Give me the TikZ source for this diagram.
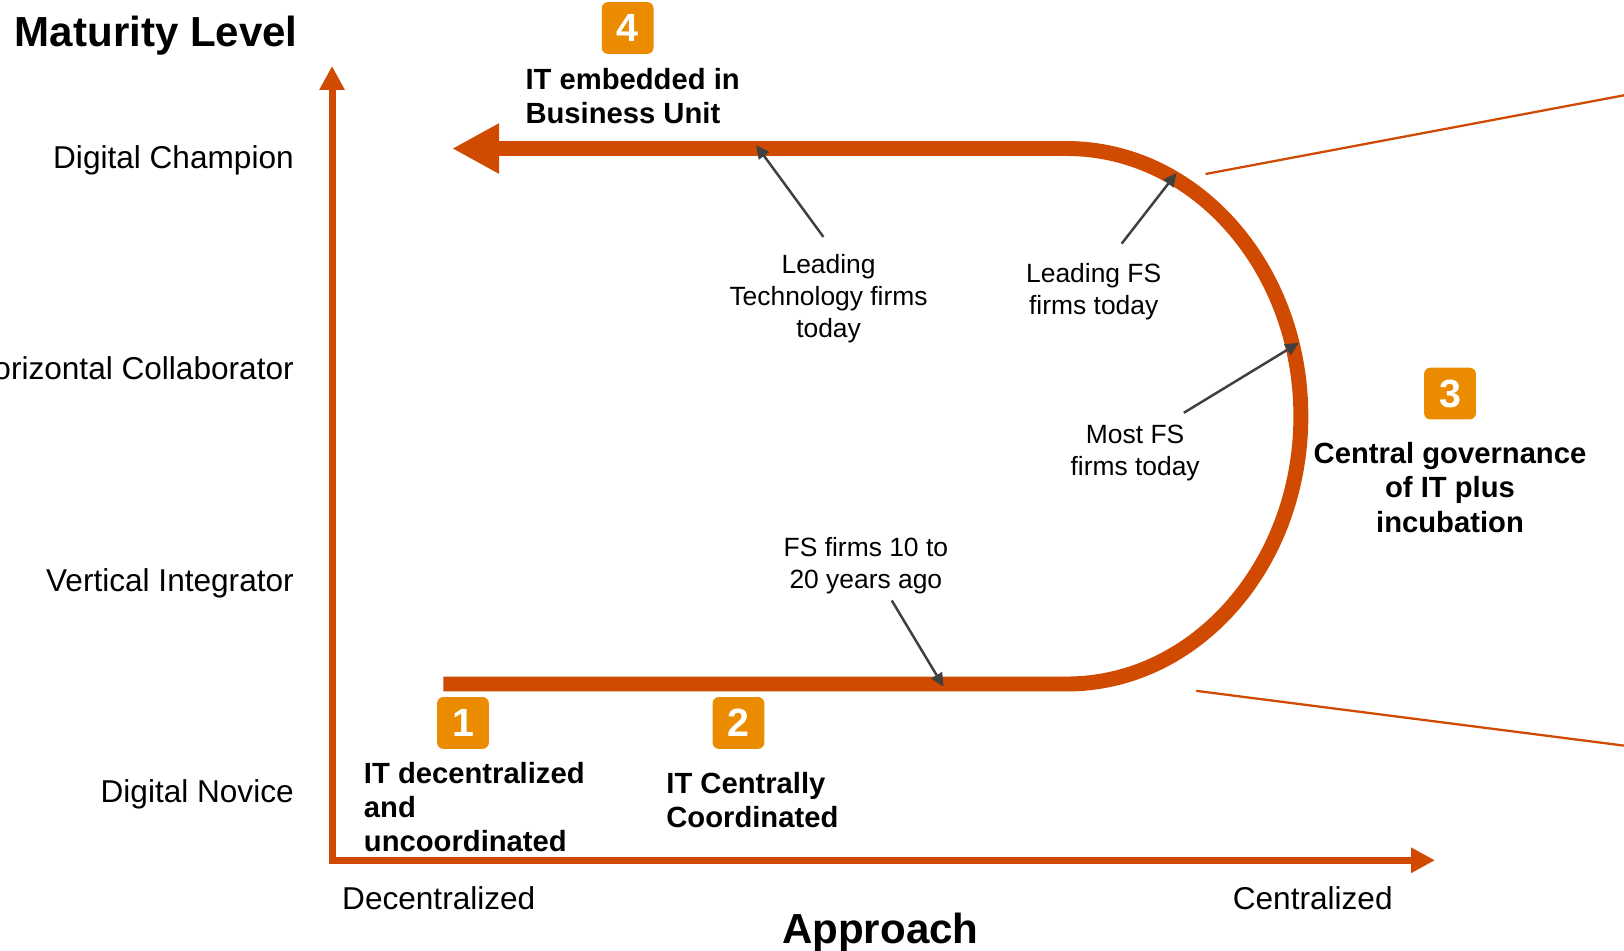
\documentclass[tikz,border=0pt]{standalone}
\usepackage{fontspec}
\setmainfont{Liberation Sans}
\usetikzlibrary{positioning, arrows.meta}
\definecolor{pwcorange}{HTML}{D04A02}
\definecolor{pwcgold}{HTML}{EB8C00}
\definecolor{callgray}{HTML}{404040}

\begin{document}
\begin{tikzpicture}[x=0.5pt, y=-0.5pt, inner sep=0pt]
        \tikzstyle{axisline} = [line width=3.4pt, draw=pwcorange, {Triangle[length=11.5pt,width=11.5pt]}-{Triangle[length=11.5pt,width=11.5pt]}]
        \tikzstyle{journey} = [line width=7.2pt, draw=pwcorange, -{Triangle[length=22.7pt,width=22.7pt]}]
        \tikzstyle{ray} = [line width=1.1pt, draw=pwcorange]
        \tikzstyle{pointer} = [line width=1.2pt, draw=callgray, -{Triangle[length=6.5pt,width=6pt]}]
        \tikzstyle{badge} = [rectangle, rounded corners=3pt, fill=pwcgold, text=white, minimum width=25pt, minimum height=25pt, font=\bfseries\fontsize{19}{19}\selectfont]
        \tikzstyle{stage} = [align=left, font=\bfseries\fontsize{14.1}{16.5}\selectfont]
        \tikzstyle{note} = [align=center, font=\fontsize{12.75}{15.5}\selectfont]
        \tikzstyle{level} = [anchor=base east, font=\fontsize{15.25}{18}\selectfont]
        \tikzstyle{heading} = [font=\bfseries\fontsize{20.3}{24}\selectfont]

        \useasboundingbox (0,0) rectangle (1568,918);
        \clip (0,0) rectangle (1568,918);

        % axes
        \coordinate (ytip) at (320.6,63.7);
        \coordinate (corner) at (320.6,830.6);
        \coordinate (xtip) at (1385.5,830.6);
        \draw [axisline] (ytip) -- (corner) -- (xtip);

        \node (maturity) [heading, anchor=base west] at (14,44.6) {Maturity Level};
        \node (approach) [heading, anchor=base] at (850,911) {Approach};
        \node (decent) [level, anchor=base west] at (330,878) {Decentralized};
        \node (cent) [level] at (1345,878) {Centralized};

        \node (champion) [level] at (284,163) {Digital Champion};
        \node (collab) [level] at (284,366) {Horizontal Collaborator};
        \node (vertical) [level] at (284,571) {Vertical Integrator};
        \node (novice) [level] at (284,775) {Digital Novice};

        % the U shaped journey
        \coordinate (start) at (428,660.4);
        \coordinate (finish) at (436.5,143.4);
        \draw [journey] (start) -- (1030,660.4) arc[start angle=90, end angle=-90, x radius=226, y radius=258.5] -- (finish);

        % zoom rays
        \coordinate (ray1a) at (1164,168);
        \coordinate (ray1b) at (1600,86);
        \coordinate (ray2a) at (1155,667);
        \coordinate (ray2b) at (1600,724);
        \draw [ray] (ray1a) -- (ray1b);
        \draw [ray] (ray2a) -- (ray2b);

        % stages
        \node (b4) [badge] at (606,27) {4};
        \node (b1) [badge] at (447,698) {1};
        \node (b2) [badge] at (713,698) {2};
        \node (b3) [badge] at (1400,380) {3};

        \node (s4) [stage, anchor=north west] at (507,65.5) {IT embedded in\\Business Unit};
        \node (s1) [stage, anchor=north west] at (351,735.5) {IT decentralized\\and\\uncoordinated};
        \node (s2) [stage, anchor=north west] at (643,745.5) {IT Centrally\\Coordinated};
        \node (s3) [stage, align=center, below=10.75pt of b3] {Central governance\\of IT plus\\incubation};

        % where firms are
        \node (n1) [note] at (800,288) {Leading\\Technology firms\\today};
        \node (n2) [note] at (1056,282) {Leading FS\\firms today};
        \node (n3) [note] at (1096,437) {Most FS\\firms today};
        \node (n4) [note] at (836,546) {FS firms 10 to\\20 years ago};

        \coordinate (t1) at (730,140);
        \coordinate (t2) at (1136,167);
        \coordinate (t3) at (1254,331);
        \coordinate (t4) at (911,663);

        \draw [pointer] ([shift={(-5,-16)}]n1.north) -- (t1);
        \draw [pointer] ([shift={(27,-19)}]n2.north) -- (t2);
        \draw [pointer] ([shift={(47,-11)}]n3.north) -- (t3);
        \draw [pointer] ([shift={(25,6)}]n4.south) -- (t4);
\end{tikzpicture}
\end{document}
